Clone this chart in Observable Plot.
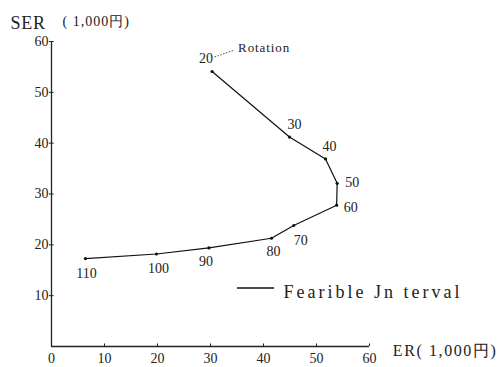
<!DOCTYPE html>
<html><head><meta charset="utf-8">
<script src="https://cdn.jsdelivr.net/npm/d3@7"></script>
<script src="https://cdn.jsdelivr.net/npm/@observablehq/plot@0.6"></script>
<style>
body{margin:0;background:#fff}
.legendText text{letter-spacing:3px}
.noteText text{letter-spacing:0.9px}
.xTitle text{letter-spacing:1.6px}
.yUnit text{letter-spacing:1px}
.yTitle text{letter-spacing:0.8px}
</style>
</head><body><div id="chart"></div>
<script>
const rotation = [20, 30, 40, 50, 60, 70, 80, 90, 100, 110];
const er = [30.3, 44.9, 51.7, 53.9, 53.8, 45.7, 41.5, 29.7, 19.8, 6.4];
const ser = [54.1, 41.2, 36.9, 32.1, 27.8, 23.8, 21.3, 19.4, 18.2, 17.3];
const xTicks = [0, 10, 20, 30, 40, 50, 60];
const yTicks = [10, 20, 30, 40, 50, 60];
const yTitle = "SER";
const yUnit = "( 1,000円)";
const xTitle = "ER( 1,000円)";
const legendLabel = "Fearible Jn terval";
const seriesNote = "Rotation";

const data = rotation.map((r, i) => ({r, x: er[i], y: ser[i]}));
// label placement (pixel offsets, styling only)
const off = {20:[-6,-13],30:[5,-13],40:[4,-12],50:[15,-1],60:[14,2],70:[7,15],80:[2,13],90:[-3,14],100:[2,15],110:[1,15]};
const labelMarks = rotation.map(r => Plot.text(data.filter(d => d.r === r), {
  x: "x", y: "y", text: d => String(d.r), dx: off[r][0], dy: off[r][1], fontSize: 14, fill: "#222"
}));

const chart = Plot.plot({
  width: 499, height: 367,
  marginLeft: 51, marginRight: 130, marginTop: 41, marginBottom: 21,
  style: {fontFamily: "'Liberation Serif', 'DejaVu Serif', serif", background: "#fff"},
  x: {type: "linear", domain: [0, 60], axis: null},
  y: {type: "linear", domain: [0, 60], axis: null},
  marks: [
    Plot.ruleX([0], {y1: 0, y2: 60, stroke: "#222", strokeWidth: 1.3}),
    Plot.ruleY([0], {x1: 0, x2: 60, stroke: "#222", strokeWidth: 1.3}),
    Plot.ruleY(yTicks, {y: d => d, x1: -0.4, x2: 0.5, stroke: "#222", strokeWidth: 1}),
    Plot.ruleX(xTicks.slice(1), {x: d => d, y1: 0, y2: 0.5, stroke: "#222", strokeWidth: 1}),
    Plot.text(yTicks, {x: 0, y: d => d, text: d => String(d), textAnchor: "end", dx: -3, fontSize: 14, fill: "#222"}),
    Plot.text(xTicks, {x: d => d, y: 0, text: d => String(d), dy: 12, fontSize: 14, fill: "#222"}),
    Plot.line(data, {x: "x", y: "y", stroke: "#111", strokeWidth: 1.2}),
    Plot.dot(data, {x: "x", y: "y", r: 1.6, fill: "#111"}),
    ...labelMarks,
    Plot.text(data.slice(0,1), {x: "x", y: "y", text: () => seriesNote, textAnchor: "start", dx: 26, dy: -24, fontSize: 13, fill: "#222", className: "noteText"}),
    Plot.text([yTitle], {frameAnchor: "top-left", dx: -41, dy: -25, text: d => d, fontSize: 18, fill: "#222", textAnchor: "start", className: "yTitle"}),
    Plot.text([yUnit], {frameAnchor: "top-left", dx: 11, dy: -25, text: d => d, fontSize: 14, fill: "#222", textAnchor: "start", className: "yUnit"}),
    Plot.text([xTitle], {frameAnchor: "bottom-right", dx: 128, dy: 9, text: d => d, fontSize: 16, fill: "#222", textAnchor: "end", className: "xTitle"}),
    Plot.text([legendLabel], {frameAnchor: "top-left", dx: 232, dy: 244, text: d => d, fontSize: 18, fill: "#222", textAnchor: "start", className: "legendText"})
  ]
});
document.getElementById("chart").append(chart);
const svg = d3.select(chart);
const sx = chart.scale("x"), sy = chart.scale("y");
svg.append("line").attr("x1", 237).attr("x2", 274).attr("y1", 288).attr("y2", 288).attr("stroke", "#111").attr("stroke-width", 1.3);
const px = sx.apply(er[0]), py = sy.apply(ser[0]);
svg.append("line").attr("x1", px + 3).attr("y1", py - 14).attr("x2", px + 23).attr("y2", py - 21)
  .attr("stroke", "#333").attr("stroke-width", 0.9).attr("stroke-dasharray", "1.5,1.5");
</script></body></html>
